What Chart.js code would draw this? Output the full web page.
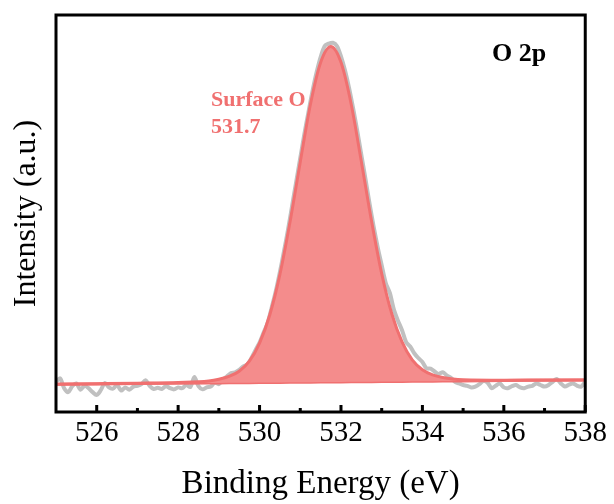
<!DOCTYPE html>
<html>
<head>
<meta charset="utf-8">
<title>O 2p XPS</title>
<script src="https://cdn.jsdelivr.net/npm/chart.js@4.4.1/dist/chart.umd.min.js"></script>
<style>
  html, body { margin: 0; padding: 0; background: #fff; }
  #chartWrap { width: 614px; height: 504px; }
</style>
</head>
<body>
<div id="chartWrap"><canvas id="o2pChart" width="614" height="504"></canvas></div>
<script>
// raw spectrum (grey), 0.1 eV steps
const rawEnergy = [
  525.0, 525.1, 525.2, 525.3, 525.4, 525.5, 525.6, 525.7, 525.8, 525.9,
  526.0, 526.1, 526.2, 526.3, 526.4, 526.5, 526.6, 526.7, 526.8, 526.9,
  527.0, 527.1, 527.2, 527.3, 527.4, 527.5, 527.6, 527.7, 527.8, 527.9,
  528.0, 528.1, 528.2, 528.3, 528.4, 528.5, 528.6, 528.7, 528.8, 528.9,
  529.0, 529.1, 529.2, 529.3, 529.4, 529.5, 529.6, 529.7, 529.8, 529.9,
  530.0, 530.1, 530.2, 530.3, 530.4, 530.5, 530.6, 530.7, 530.8, 530.9,
  531.0, 531.1, 531.2, 531.3, 531.4, 531.5, 531.6, 531.7, 531.8, 531.9,
  532.0, 532.1, 532.2, 532.3, 532.4, 532.5, 532.6, 532.7, 532.8, 532.9,
  533.0, 533.1, 533.2, 533.3, 533.4, 533.5, 533.6, 533.7, 533.8, 533.9,
  534.0, 534.1, 534.2, 534.3, 534.4, 534.5, 534.6, 534.7, 534.8, 534.9,
  535.0, 535.1, 535.2, 535.3, 535.4, 535.5, 535.6, 535.7, 535.8, 535.9,
  536.0, 536.1, 536.2, 536.3, 536.4, 536.5, 536.6, 536.7, 536.8, 536.9,
  537.0, 537.1, 537.2, 537.3, 537.4, 537.5, 537.6, 537.7, 537.8, 537.9,
  538.0
];
const rawIntensity = [
  7.6, 8.5, 6.0, 5.0, 6.5, 7.2, 5.6, 6.6, 6.0, 5.0,
  4.3, 5.5, 7.3, 6.2, 5.9, 6.8, 5.4, 6.2, 5.6, 6.4,
  6.6, 7.0, 8.0, 6.6, 5.8, 6.1, 5.8, 6.5, 6.0, 5.7,
  6.2, 6.0, 6.8, 6.3, 8.8, 6.5, 5.7, 6.2, 6.4, 7.4,
  7.0, 8.2, 9.0, 9.8, 10.0, 10.6, 11.5, 12.0, 13.6, 15.6,
  17.5, 20.0, 22.5, 26.4, 30.5, 35.3, 40.5, 46.0, 52.0, 58.0,
  64.0, 70.0, 75.5, 80.8, 85.5, 89.4, 92.2, 92.8, 93.0, 92.2,
  89.6, 86.0, 81.6, 76.4, 70.8, 64.8, 58.8, 52.6, 46.8, 41.6,
  37.0, 32.5, 30.0, 25.8, 23.0, 20.6, 17.6, 16.5, 14.8, 13.6,
  12.6, 11.0, 10.9, 10.2, 9.6, 10.0, 9.2, 8.6, 7.6, 7.2,
  6.8, 6.6, 6.2, 6.4, 7.0, 7.8, 7.4, 6.0, 6.6, 7.2,
  6.2, 6.0, 6.5, 6.8, 6.2, 6.0, 6.4, 6.6, 7.2, 6.8,
  6.4, 6.8, 7.6, 8.3, 7.2, 6.4, 6.9, 7.2, 6.6, 6.4,
  7.6
];

// fitted Surface O component and background
const fitEnergy = [
  525, 526, 527, 528, 528.75, 529, 529.25, 529.5, 529.75, 530,
  530.25, 530.5, 530.75, 531, 531.25, 531.5, 531.75, 532, 532.25, 532.5,
  532.75, 533, 533.25, 533.5, 533.75, 534, 534.25, 534.5, 534.75, 535,
  536, 537, 538
];
const fitEnvelope = [
  7.00, 7.13, 7.27, 7.45, 7.81, 8.23, 8.95, 10.27, 12.79, 17.37,
  24.44, 34.66, 47.98, 63.0, 77.52, 88.04, 92.06, 88.08, 77.6, 63.12,
  48.14, 34.86, 24.68, 17.66, 13.13, 10.65, 9.37, 8.69, 8.31, 8.13,
  8.01, 8.05, 8.08
];
const fitBaseline = [
  7.00, 7.08, 7.17, 7.25, 7.31, 7.33, 7.35, 7.37, 7.39, 7.42,
  7.44, 7.46, 7.48, 7.50, 7.52, 7.54, 7.56, 7.58, 7.60, 7.62,
  7.64, 7.66, 7.68, 7.71, 7.73, 7.75, 7.77, 7.79, 7.81, 7.83,
  7.91, 8.00, 8.08
];

const xRange = [525, 538];
const yRange = [0, 100];
const xTickValues = [526, 528, 530, 532, 534, 536, 538];
const xMinorTickValues = [527, 529, 531, 533, 535, 537];

const peakLabel = "Surface O";
const peakPosition = "531.7";
const panelLabel = "O 2p";

const SERIF = "'Liberation Serif', 'Times New Roman', serif";
const FIT_RED = "rgb(240, 112, 112)";
const FIT_FILL = "rgb(244, 140, 140)";
const RAW_GREY = "rgb(192, 192, 192)";

window.O2pChart = {
  chart: null,

  init() {
    this.canvas = document.getElementById("o2pChart");
    this.render();
  },

  toPoints(xs, ys) {
    return xs.map((x, i) => ({ x, y: ys[i] }));
  },

  framePlugin() {
    return {
      id: "frameAndTicks",
      afterDraw(chart) {
        const { ctx, chartArea: a, scales } = chart;
        const x = scales.x;
        ctx.save();
        ctx.strokeStyle = "#000";
        ctx.lineWidth = 3;
        ctx.beginPath();
        xTickValues.forEach((v) => {
          const px = x.getPixelForValue(v);
          ctx.moveTo(px, a.bottom);
          ctx.lineTo(px, a.bottom - 7);
        });
        xMinorTickValues.forEach((v) => {
          const px = x.getPixelForValue(v);
          ctx.moveTo(px, a.bottom);
          ctx.lineTo(px, a.bottom - 4);
        });
        ctx.stroke();
        ctx.strokeRect(a.left, a.top, a.right - a.left, a.bottom - a.top);

        ctx.textBaseline = "middle";
        ctx.textAlign = "left";
        ctx.fillStyle = "#000";
        ctx.font = "bold 26px " + SERIF;
        ctx.fillText(panelLabel, 492, 54);

        ctx.fillStyle = FIT_RED;
        ctx.font = "bold 22px " + SERIF;
        ctx.fillText(peakLabel, 211, 100);
        ctx.fillText(peakPosition, 211, 127);
        ctx.restore();
      }
    };
  },

  render() {
    if (this.chart) this.chart.destroy();
    this.chart = new Chart(this.canvas, {
      type: "line",
      data: {
        datasets: [
          {
            label: "Surface O",
            data: this.toPoints(fitEnergy, fitEnvelope),
            borderColor: FIT_RED,
            borderWidth: 3,
            backgroundColor: FIT_FILL,
            fill: { target: 1, above: FIT_FILL, below: FIT_FILL },
            cubicInterpolationMode: "monotone",
            pointRadius: 0,
            order: 0
          },
          {
            label: "Background",
            data: this.toPoints(fitEnergy, fitBaseline),
            borderColor: FIT_RED,
            borderWidth: 3,
            fill: false,
            pointRadius: 0,
            order: 1
          },
          {
            label: "Raw",
            data: this.toPoints(rawEnergy, rawIntensity),
            borderColor: RAW_GREY,
            borderWidth: 4,
            fill: false,
            tension: 0.3,
            pointRadius: 0,
            order: 2
          }
        ]
      },
      options: {
        responsive: false,
        animation: false,
        events: [],
        layout: { padding: { left: 0, right: 27, top: 15, bottom: 0 } },
        plugins: {
          legend: { display: false },
          tooltip: { enabled: false }
        },
        scales: {
          x: {
            type: "linear",
            min: xRange[0],
            max: xRange[1],
            afterBuildTicks: (s) => { s.ticks = xTickValues.map((v) => ({ value: v })); },
            afterFit: (s) => { s.height = 92; },
            grid: { display: false, drawTicks: false },
            border: { display: false },
            ticks: {
              color: "#000",
              padding: 7,
              maxRotation: 0,
              font: { family: SERIF, size: 29, lineHeight: 1 }
            },
            title: {
              display: true,
              text: "Binding Energy (eV)",
              color: "#000",
              padding: { top: 0, bottom: 3 },
              font: { family: SERIF, size: 33, lineHeight: 1 }
            }
          },
          y: {
            type: "linear",
            min: yRange[0],
            max: yRange[1],
            afterFit: (s) => { s.width = 56; },
            grid: { display: false, drawTicks: false },
            border: { display: false },
            ticks: { display: false },
            title: {
              display: true,
              text: "Intensity (a.u.)",
              color: "#000",
              padding: { top: 11, bottom: 0 },
              font: { family: SERIF, size: 32, lineHeight: 1 }
            }
          }
        }
      },
      plugins: [this.framePlugin()]
    });
  }
};

document.addEventListener("DOMContentLoaded", () => {
  window.O2pChart.init();
});
</script>
</body>
</html>
